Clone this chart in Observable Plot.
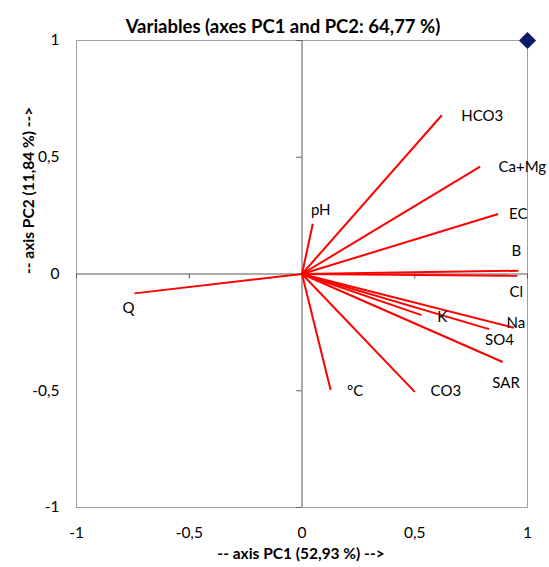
<!DOCTYPE html>
<html><head><meta charset="utf-8">
<script src="https://cdn.jsdelivr.net/npm/d3@7"></script>
<script src="https://cdn.jsdelivr.net/npm/@observablehq/plot@0.6"></script>
<style>body{margin:0;background:#fff;}</style>
</head><body><div id="chart"></div>
<script>
const variables = ["HCO3","Ca+Mg","EC","B","Cl","Na","SO4","K","SAR","CO3","°C","pH","Q"];
const pc1 = [0.62,0.79,0.87,0.96,0.955,0.94,0.83,0.53,0.89,0.50,0.127,0.048,-0.743];
const pc2 = [0.68,0.46,0.257,0.014,-0.008,-0.23,-0.236,-0.176,-0.377,-0.505,-0.497,0.215,-0.083];
const labelPc1 = [0.799,0.977,0.959,0.95,0.95,0.948,0.876,0.622,0.905,0.638,0.236,0.083,-0.769];
const labelPc2 = [0.677,0.456,0.255,0.096,-0.080,-0.21,-0.285,-0.184,-0.469,-0.502,-0.502,0.274,-0.147];
const ticks = [-1,-0.5,0,0.5,1];
const corner = [{x:1,y:1}];
const title = "Variables (axes PC1 and PC2: 64,77 %)";
const xTitle = "-- axis PC1 (52,93 %) -->";
const yTitle = "-- axis PC2 (11,84 %) -->";

const rows = variables.map((name,i)=>({name, x:pc1[i], y:pc2[i], lx:labelPc1[i], ly:labelPc2[i]}));
const fmt = d => String(d).replace(".", ",");
const minor = ticks.filter(t => t !== 0);

const chart = Plot.plot({
  width: 549, height: 567,
  marginLeft: 76, marginRight: 22, marginTop: 40, marginBottom: 60,
  x: {domain: [-1, 1]},
  y: {domain: [-1, 1]},
  style: {fontFamily: "Lato, 'Open Sans', sans-serif", fontSize: "15px", color: "#000", background: "#fff"},
  marks: [
    Plot.frame({stroke: "#a0a0a0"}),
    Plot.ruleX([0], {stroke: "#595959"}),
    Plot.ruleY([0], {stroke: "#595959"}),
    Plot.ruleY(minor, {x1: 0, x2: -0.023, stroke: "#595959"}),
    Plot.ruleX(minor, {y1: 0, y2: -0.022, stroke: "#595959"}),
    Plot.link(rows, {x1: 0, y1: 0, x2: "x", y2: "y", stroke: "#ff0000", strokeWidth: 2}),
    Plot.text(rows, {x: "lx", y: "ly", text: "name", fontSize: 15, fill: "#000"}),
    Plot.dot(corner, {x: "x", y: "y", symbol: "diamond2", r: 7.7, fill: "#0b1a64", stroke: "none"}),
    Plot.axisY(ticks, {tickSize: 0, tickPadding: 17, tickFormat: fmt, fontSize: 15.5, label: null, fill: "#000"}),
    Plot.axisX(ticks, {tickSize: 0, tickPadding: 19, tickFormat: fmt, fontSize: 15.5, label: null, fill: "#000"}),
    Plot.text([title], {frameAnchor: "top", dy: -21, dx: -19, fontSize: 18.5, fontWeight: "bold", fill: "#000"}),
    Plot.text([xTitle], {frameAnchor: "bottom", dy: 51, dx: -1, fontSize: 15.5, fontWeight: "bold", fill: "#000"}),
    Plot.text([yTitle], {frameAnchor: "left", dx: -47, rotate: -90, fontSize: 15.5, fontWeight: "bold", fill: "#000"})
  ]
});
document.getElementById("chart").appendChild(chart);
</script>
</body></html>
